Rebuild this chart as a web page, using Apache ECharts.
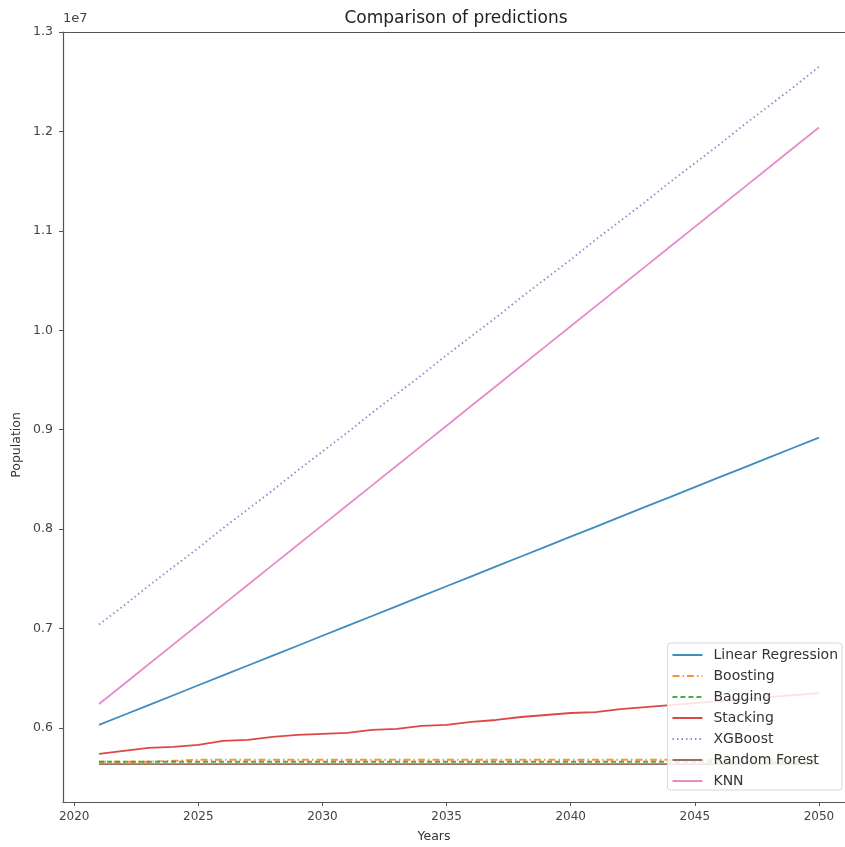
<!DOCTYPE html>
<html>
<head>
<meta charset="utf-8">
<script src="https://cdn.jsdelivr.net/npm/echarts@6/dist/echarts.min.js"></script>
<style>
html,body{margin:0;padding:0;background:#fff;}
#chart{width:845px;height:847px;}
</style>
</head>
<body>
<div id="chart"></div>
<script>
const years = [2021,2022,2023,2024,2025,2026,2027,2028,2029,2030,2031,2032,2033,2034,2035,2036,2037,2038,2039,2040,2041,2042,2043,2044,2045,2046,2047,2048,2049,2050];
const linearRegression = [6.030,6.130,6.229,6.329,6.429,6.528,6.628,6.728,6.827,6.927,7.027,7.126,7.226,7.326,7.425,7.525,7.625,7.724,7.824,7.924,8.023,8.123,8.223,8.322,8.422,8.522,8.621,8.721,8.821,8.920];
const boosting = [5.66,5.66,5.66,5.67,5.68,5.68,5.68,5.68,5.68,5.68,5.68,5.68,5.68,5.68,5.68,5.68,5.68,5.68,5.68,5.68,5.68,5.68,5.68,5.68,5.68,5.68,5.68,5.68,5.68,5.68];
const bagging = [5.66,5.66,5.66,5.66,5.66,5.66,5.66,5.66,5.66,5.66,5.66,5.66,5.66,5.66,5.66,5.66,5.66,5.66,5.66,5.66,5.66,5.66,5.66,5.66,5.66,5.66,5.66,5.66,5.66,5.66];
const stacking = [5.74,5.77,5.80,5.81,5.83,5.87,5.88,5.91,5.93,5.94,5.95,5.98,5.99,6.02,6.03,6.06,6.08,6.11,6.13,6.15,6.16,6.19,6.21,6.23,6.25,6.27,6.29,6.31,6.33,6.35];
const xgboost = [7.04,7.23,7.43,7.62,7.81,8.01,8.20,8.39,8.59,8.78,8.97,9.17,9.36,9.55,9.75,9.94,10.13,10.33,10.52,10.71,10.91,11.10,11.29,11.49,11.68,11.87,12.07,12.26,12.45,12.65];
const randomForest = [5.635,5.635,5.635,5.635,5.635,5.635,5.635,5.635,5.635,5.635,5.635,5.635,5.635,5.635,5.635,5.635,5.635,5.635,5.635,5.635,5.635,5.635,5.635,5.635,5.635,5.635,5.635,5.635,5.635,5.635];
const knn = [6.24,6.44,6.64,6.84,7.04,7.24,7.44,7.64,7.84,8.04,8.24,8.44,8.64,8.84,9.04,9.24,9.44,9.64,9.84,10.04,10.24,10.44,10.64,10.84,11.04,11.24,11.44,11.64,11.84,12.04];
const xTicks = [2020,2025,2030,2035,2040,2045,2050];
const yTicks = [6e6,7e6,8e6,9e6,10e6,11e6,12e6,13e6];
const seriesNames = ['Linear Regression','Boosting','Bagging','Stacking','XGBoost','Random Forest','KNN'];
</script>
<script>
const chart = echarts.init(document.getElementById('chart'), null, {renderer: 'canvas'});
const pairs = arr => years.map((y, i) => [y, arr[i] * 1e6]);
const seriesData = [linearRegression, boosting, bagging, stacking, xgboost, randomForest, knn];
const colors = ['#1f77b4','#ff7f0e','#2ca02c','#d62728','#9467bd','#8c564b','#e377c2'];
const types = ['solid',[7,3,1.5,3],[5,3],'solid',[1.5,3],'solid','solid'];
const axisColor = '#555';
const font = 'DejaVu Sans';

const series = seriesNames.map((name, i) => ({
  name: name,
  type: 'line',
  data: pairs(seriesData[i]),
  showSymbol: false,
  symbol: 'none',
  animation: false,
  z: 2 + i,
  lineStyle: {color: colors[i], width: 1.8, type: types[i], opacity: 0.85},
  itemStyle: {color: colors[i]}
}));

chart.setOption({
  backgroundColor: '#fff',
  animation: false,
  grid: {left: 63, top: 32, right: 0, bottom: 45, containLabel: false},
  xAxis: [{
    type: 'value', min: 2019.55, max: 2051.05,
    axisLine: {show: true, onZero: false, lineStyle: {color: axisColor, width: 1.2}},
    axisTick: {show: true, length: 4, customValues: xTicks, lineStyle: {color: axisColor}},
    axisLabel: {customValues: xTicks, color: '#444', fontFamily: font, fontSize: 12, margin: 9,
                formatter: v => String(Math.round(v))},
    splitLine: {show: false}
  }, {
    type: 'value', min: 2019.55, max: 2051.05, position: 'top',
    axisLine: {show: true, onZero: false, lineStyle: {color: axisColor, width: 1.2}},
    axisTick: {show: false}, axisLabel: {show: false}, splitLine: {show: false}
  }],
  yAxis: {
    type: 'value', min: 5255000, max: 13000000,
    axisLine: {show: true, onZero: false, lineStyle: {color: axisColor, width: 1.2}},
    axisTick: {show: true, length: 4, customValues: yTicks, lineStyle: {color: axisColor}},
    axisLabel: {customValues: yTicks, color: '#444', fontFamily: font, fontSize: 12.5, margin: 10,
                formatter: v => (v / 1e7).toFixed(1)},
    splitLine: {show: false}
  },
  legend: {
    data: seriesNames,
    orient: 'vertical',
    right: 3, top: 643,
    z: 30,
    itemWidth: 30, itemHeight: 12,
    itemGap: 7,
    itemStyle: {opacity: 0},
    backgroundColor: 'rgba(255,255,255,0.85)',
    borderColor: '#d8d8d8', borderWidth: 1, borderRadius: 3,
    padding: [5, 4, 2, 4],
    textStyle: {color: '#333', fontFamily: font, fontSize: 14, padding: [0,0,0,6]},
    selectedMode: false
  },
  graphic: [
    {type: 'text', x: 456, y: 10, style: {text: 'Comparison of predictions', fill: '#222', font: '17px "DejaVu Sans"', align: 'center'}},
    {type: 'text', x: 434, y: 830, style: {text: 'Years', fill: '#333', font: '12.5px "DejaVu Sans"', align: 'center'}},
    {type: 'text', x: 17, y: 445, rotation: Math.PI / 2, style: {text: 'Population', fill: '#333', font: '12.5px "DejaVu Sans"', align: 'center', verticalAlign: 'middle'}},
    {type: 'text', x: 63, y: 12, style: {text: '1e7', fill: '#444', font: '13px "DejaVu Sans"'}}
  ],
  series: series
});
</script>
</body>
</html>
